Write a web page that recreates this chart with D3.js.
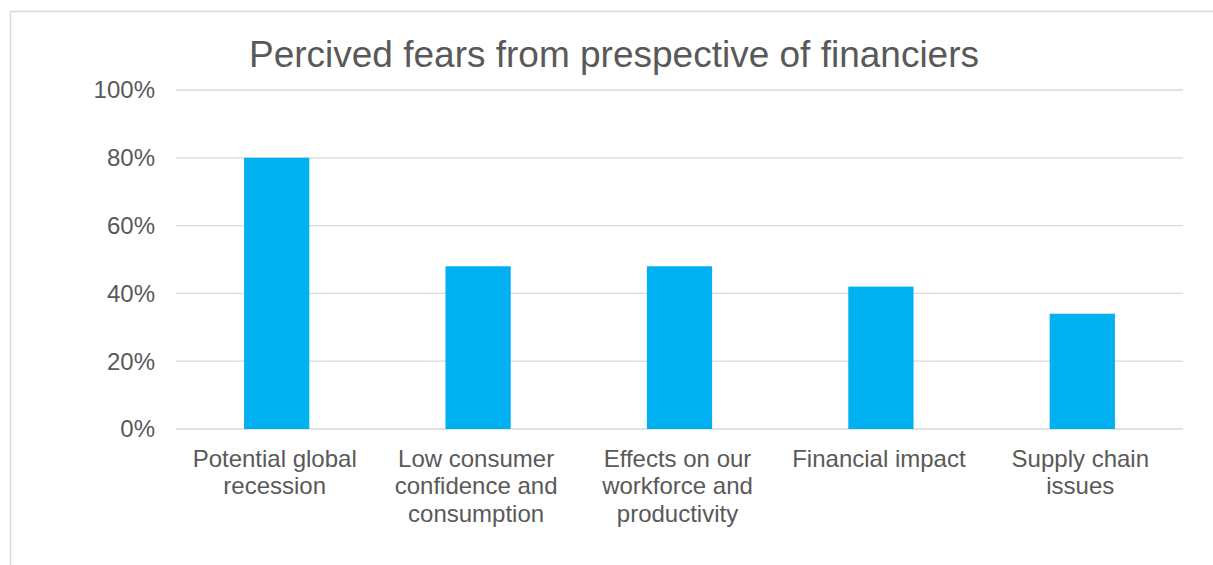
<!DOCTYPE html>
<html><head><meta charset="utf-8">
<script src="https://cdn.jsdelivr.net/npm/d3@7"></script>
<style>body{margin:0;background:#fff;} svg{display:block;font-family:"Liberation Sans",Arial,sans-serif;}</style>
</head><body>
<svg id="c" width="1213" height="565"></svg>
<script>
(function(){
const title = "Percived fears from prespective of financiers";
const categories = [
  ["Potential global", "recession"],
  ["Low consumer", "confidence and", "consumption"],
  ["Effects on our", "workforce and", "productivity"],
  ["Financial impact"],
  ["Supply chain", "issues"]
];
const values = [0.80, 0.48, 0.48, 0.42, 0.34];
const yTicks = [0, 0.2, 0.4, 0.6, 0.8, 1.0];

const svg = d3.select("#c");
svg.append("rect").attr("x", 10.5).attr("y", 11.5).attr("width", 1210).attr("height", 570)
  .attr("fill", "#fff").attr("stroke", "#d9d9d9").attr("stroke-width", 1.5);

const mLeft = 176, mRight = 1183, mTop = 90, mBottom = 429;
const x = d3.scaleBand().domain(d3.range(categories.length)).range([mLeft, mRight]).paddingInner(0.676).paddingOuter(0.338);
const y = d3.scaleLinear().domain([0, 1]).range([mBottom, mTop]);

svg.append("text").attr("x", 614).attr("y", 67).attr("text-anchor", "middle")
  .attr("font-size", 37).attr("fill", "#595959").text(title);

const g = svg.append("g");
g.selectAll("line.grid").data(yTicks).join("line").attr("class", "grid")
  .attr("x1", mLeft).attr("x2", mRight).attr("y1", d => y(d)).attr("y2", d => y(d))
  .attr("stroke", "#d9d9d9").attr("stroke-width", 1.3);

g.selectAll("text.yl").data(yTicks).join("text").attr("class", "yl")
  .attr("x", 155).attr("y", d => y(d)).attr("dy", "0.35em").attr("text-anchor", "end")
  .attr("font-size", 24).attr("fill", "#595959").text(d => d3.format(".0%")(d));

g.selectAll("rect.bar").data(values).join("rect").attr("class", "bar")
  .attr("x", (d, i) => x(i)).attr("width", x.bandwidth())
  .attr("y", d => y(d)).attr("height", d => y(0) - y(d)).attr("fill", "#00b0f0");

categories.forEach((lines, i) => {
  const cx = x(i) + x.bandwidth() / 2 - 2;
  const t = g.append("text").attr("text-anchor", "middle").attr("font-size", 24).attr("fill", "#595959");
  lines.forEach((ln, j) => {
    t.append("tspan").attr("x", cx).attr("y", 466.5 + j * 27.5).text(ln);
  });
});
})();
</script>
</body></html>
